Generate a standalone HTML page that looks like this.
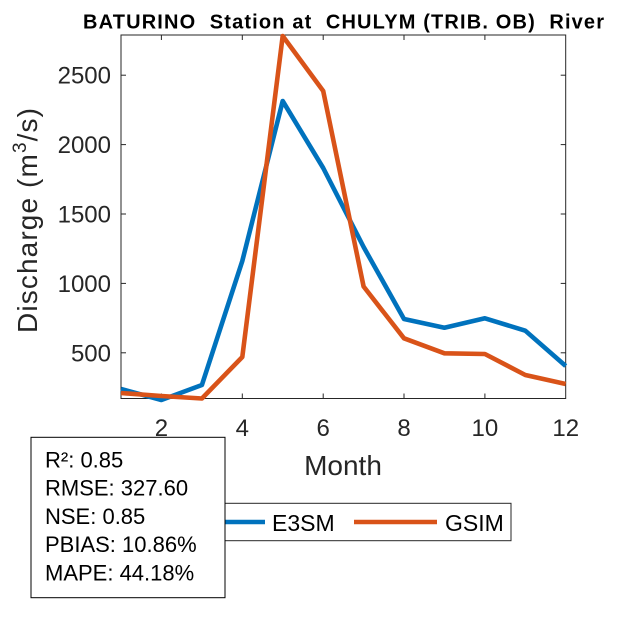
<!DOCTYPE html>
<html>
<head>
<meta charset="utf-8">
<style>
html,body{margin:0;padding:0;background:#fff;}
svg{display:block;}
text{font-family:"Liberation Sans",Arial,sans-serif;}
.pre{white-space:pre;}
</style>
</head>
<body>
<svg width="625" height="625" viewBox="0 0 625 625" xmlns="http://www.w3.org/2000/svg">
<rect x="0" y="0" width="625" height="625" fill="#fff"/>
<!-- axes box -->
<rect x="121" y="35" width="444.7" height="363.5" fill="#fff" stroke="#262626" stroke-width="1"/>
<!-- x ticks bottom & top -->
<g stroke="#262626" stroke-width="1">
<line x1="161.4" y1="398.5" x2="161.4" y2="393.5"/>
<line x1="242.3" y1="398.5" x2="242.3" y2="393.5"/>
<line x1="323.2" y1="398.5" x2="323.2" y2="393.5"/>
<line x1="404.0" y1="398.5" x2="404.0" y2="393.5"/>
<line x1="484.9" y1="398.5" x2="484.9" y2="393.5"/>
<line x1="161.4" y1="35" x2="161.4" y2="40"/>
<line x1="242.3" y1="35" x2="242.3" y2="40"/>
<line x1="323.2" y1="35" x2="323.2" y2="40"/>
<line x1="404.0" y1="35" x2="404.0" y2="40"/>
<line x1="484.9" y1="35" x2="484.9" y2="40"/>
<!-- y ticks left & right -->
<line x1="121" y1="352.8" x2="126" y2="352.8"/>
<line x1="121" y1="283.4" x2="126" y2="283.4"/>
<line x1="121" y1="214.0" x2="126" y2="214.0"/>
<line x1="121" y1="144.6" x2="126" y2="144.6"/>
<line x1="121" y1="75.2" x2="126" y2="75.2"/>
<line x1="565.7" y1="352.8" x2="560.7" y2="352.8"/>
<line x1="565.7" y1="283.4" x2="560.7" y2="283.4"/>
<line x1="565.7" y1="214.0" x2="560.7" y2="214.0"/>
<line x1="565.7" y1="144.6" x2="560.7" y2="144.6"/>
<line x1="565.7" y1="75.2" x2="560.7" y2="75.2"/>
</g>
<!-- tick labels -->
<g fill="#262626" font-size="24" text-anchor="end">
<text x="111" y="361.3">500</text>
<text x="111" y="291.9">1000</text>
<text x="111" y="222.5">1500</text>
<text x="111" y="153.1">2000</text>
<text x="111" y="83.7">2500</text>
</g>
<g fill="#262626" font-size="24" text-anchor="middle">
<text x="161.4" y="436">2</text>
<text x="242.3" y="436">4</text>
<text x="323.2" y="436">6</text>
<text x="404.0" y="436">8</text>
<text x="484.9" y="436">10</text>
<text x="565.7" y="436">12</text>
</g>
<!-- axis labels -->
<text x="343" y="475" font-size="28" fill="#262626" text-anchor="middle">Month</text>
<text transform="translate(37,220.5) rotate(-90)" font-size="28" fill="#262626" text-anchor="middle" textLength="225" lengthAdjust="spacing">Discharge (m<tspan font-size="19" dy="-11">3</tspan><tspan dy="11">/s)</tspan></text>
<!-- title -->
<text class="pre" xml:space="preserve" x="83" y="28.5" font-size="20" font-weight="bold" fill="#000" textLength="521" lengthAdjust="spacing">BATURINO  Station at  CHULYM (TRIB. OB)  River</text>
<!-- series -->
<polyline fill="none" stroke="#0072BD" stroke-width="4.6" stroke-linejoin="round" stroke-linecap="butt"
 points="121,389 161.4,400 201.9,385 242.3,261 282.7,101 323.2,168 363.6,247 404.0,319 444.4,327.7 484.9,318.3 525.3,330.7 565.7,366"/>
<polyline fill="none" stroke="#D95319" stroke-width="4.6" stroke-linejoin="round" stroke-linecap="butt"
 points="121,393 161.4,396 201.9,398.5 242.3,357 282.7,36 323.2,91 363.6,286.5 404.0,338.3 444.4,353.3 484.9,354 525.3,375 565.7,384"/>
<!-- legend -->
<rect x="175" y="503.3" width="336" height="37.4" fill="#fff" stroke="#262626" stroke-width="1"/>
<line x1="182" y1="522" x2="265" y2="522" stroke="#0072BD" stroke-width="4.6"/>
<text x="272" y="531" font-size="23" fill="#000">E3SM</text>
<line x1="354" y1="522" x2="437" y2="522" stroke="#D95319" stroke-width="4.6"/>
<text x="445" y="531" font-size="23" fill="#000">GSIM</text>
<!-- stats box -->
<rect x="31" y="437.3" width="194" height="160.4" fill="#fff" stroke="#000" stroke-width="1"/>
<g font-size="22" fill="#000">
<text x="45" y="467.5">R²: 0.85</text>
<text x="45" y="495.7">RMSE: 327.60</text>
<text x="45" y="523.9">NSE: 0.85</text>
<text x="45" y="552.1">PBIAS: 10.86%</text>
<text x="45" y="580.3">MAPE: 44.18%</text>
</g>
</svg>
</body>
</html>
